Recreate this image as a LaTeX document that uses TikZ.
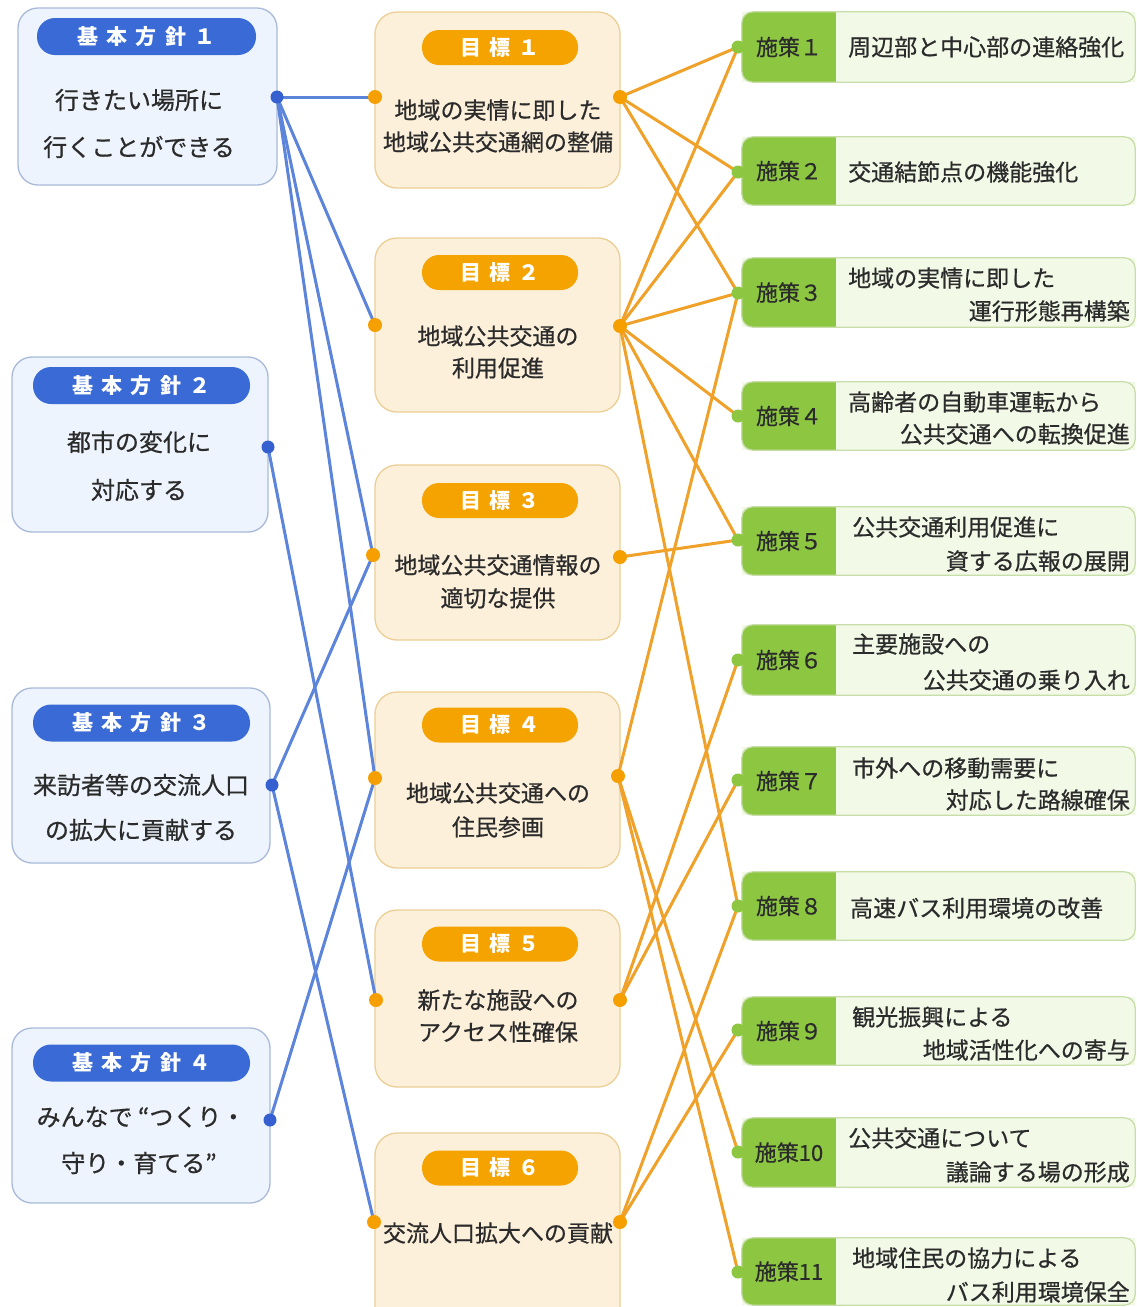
\documentclass[tikz,border=0pt]{standalone}
\usepackage{fontspec}
\setmainfont{Noto Sans CJK JP}
\definecolor{pillblue}{HTML}{3A6AD5}
\definecolor{lineblue}{HTML}{5B84DA}
\definecolor{dotblue}{HTML}{3660CF}
\definecolor{pfill}{HTML}{EEF4FD}
\definecolor{pborder}{HTML}{A9BAD9}
\definecolor{gfill}{HTML}{FDF0DA}
\definecolor{gborder}{HTML}{EBCF96}
\definecolor{pillorange}{HTML}{F5A300}
\definecolor{lineorange}{HTML}{EFA12A}
\definecolor{dotorange}{HTML}{F5A000}
\definecolor{mgreen}{HTML}{8DC641}
\definecolor{mfill}{HTML}{F2F9E7}
\definecolor{mborder}{HTML}{C8DEA9}
\definecolor{txt}{HTML}{2B2B2B}
\newcommand{\gsp}{\hspace{0.4em}}
\newcommand{\pillfont}{\fontsize{21}{24}\selectfont\bfseries}
\newcommand{\bodyfont}[1]{\fontsize{#1}{#1}\selectfont\addfontfeature{FakeBold=0.6}}
\newcommand{\measurebox}[4]{%
  \pgfmathsetmacro{\mbc}{(#2+#3)/2}%
  \pgfmathsetmacro{\mbh}{#3-#2}%
  \node[mbox, minimum height=\mbh pt] (#1) at (938.5,\mbc) {};
  \begin{scope}
    \clip[rounded corners=11pt] (#1.north west) rectangle (#1.south east);
    \fill[mgreen] (#1.north west) rectangle ([xshift=94pt]#1.south west);
  \end{scope}
  \draw[draw=mborder, line width=1.3pt, rounded corners=11pt] (#1.north west) rectangle (#1.south east);
  \node[mlab] (#1lab) at (789,\mbc) {#4};
}
\begin{document}
\begin{tikzpicture}[x=1pt,y=-1pt,
  pbox/.style={draw=pborder, fill=pfill, line width=1.3pt, rounded corners=20pt, inner sep=0pt},
  gbox/.style={draw=gborder, fill=gfill, line width=1.3pt, rounded corners=22pt, inner sep=0pt, minimum width=245pt},
  mbox/.style={fill=mfill, inner sep=0pt, minimum width=393pt},
  ppill/.style={fill=pillblue, rounded corners=18pt, inner sep=0pt, minimum height=37pt, text=white, font=\pillfont},
  gpill/.style={fill=pillorange, rounded corners=17pt, inner sep=0pt, minimum width=156pt, minimum height=35pt, text=white, font=\pillfont},
  ptxt/.style={inner sep=0pt, text=txt, font=\bodyfont{24}},
  gtxt/.style={inner sep=0pt, text=txt, font=\bodyfont{23}},
  mtxt/.style={inner sep=0pt, text=txt, font=\bodyfont{23}},
  mlab/.style={inner sep=0pt, text=txt, font=\bodyfont{22}},
  bline/.style={draw=lineblue, line width=3pt},
  oline/.style={draw=lineorange, line width=3pt},
]
\useasboundingbox (0,0) rectangle (1136,1307);
\clip (0,0) rectangle (1136,1307);
\fill[white] (0,0) rectangle (1136,1307);

% ---------- policy boxes ----------
\node[pbox, minimum width=259pt, minimum height=177pt] (p1) at (147.5,96.5) {};
\node[ppill, minimum width=219pt] (p1h) at (146.5,36.5) {基\gsp 本\gsp 方\gsp 針\gsp １};
\node[ptxt] (p1a) at (139,100) {行きたい場所に};
\node[ptxt] (p1b) at (139,147) {行くことができる};

\node[pbox, minimum width=256pt, minimum height=175pt] (p2) at (140,444.5) {};
\node[ppill, minimum width=217pt] (p2h) at (141.5,385.5) {基\gsp 本\gsp 方\gsp 針\gsp ２};
\node[ptxt] (p2a) at (139,442) {都市の変化に};
\node[ptxt] (p2b) at (139,490) {対応する};

\node[pbox, minimum width=258pt, minimum height=175pt] (p3) at (141,775.5) {};
\node[ppill, minimum width=217pt] (p3h) at (141.5,723) {基\gsp 本\gsp 方\gsp 針\gsp ３};
\node[ptxt] (p3a) at (141,785) {来訪者等の交流人口};
\node[ptxt] (p3b) at (141,830) {の拡大に貢献する};

\node[pbox, minimum width=258pt, minimum height=175pt] (p4) at (141,1115.5) {};
\node[ppill, minimum width=217pt] (p4h) at (141.5,1063) {基\gsp 本\gsp 方\gsp 針\gsp ４};
\node[ptxt] (p4a) at (141,1117) {みんなで “つくり・};
\node[ptxt] (p4b) at (139,1163) {守り・育てる”};

% ---------- goal boxes ----------
\node[gbox, minimum height=176pt] (g1) at (497.5,100) {};
\node[gpill] (g1h) at (500,47.5) {目\gsp 標\gsp １};
\node[gtxt] (g1a) at (498,110) {地域の実情に即した};
\node[gtxt] (g1b) at (498,142) {地域公共交通網の整備};

\node[gbox, minimum height=174pt] (g2) at (497.5,325) {};
\node[gpill] (g2h) at (500,272.5) {目\gsp 標\gsp ２};
\node[gtxt] (g2a) at (498,336) {地域公共交通の};
\node[gtxt] (g2b) at (498,368) {利用促進};

\node[gbox, minimum height=175pt] (g3) at (497.5,552.5) {};
\node[gpill] (g3h) at (500,500.5) {目\gsp 標\gsp ３};
\node[gtxt] (g3a) at (498,565) {地域公共交通情報の};
\node[gtxt] (g3b) at (498,598) {適切な提供};

\node[gbox, minimum height=176pt] (g4) at (497.5,780) {};
\node[gpill] (g4h) at (500,725) {目\gsp 標\gsp ４};
\node[gtxt] (g4a) at (498,793) {地域公共交通への};
\node[gtxt] (g4b) at (498,827) {住民参画};

\node[gbox, minimum height=177pt] (g5) at (497.5,998.5) {};
\node[gpill] (g5h) at (500,944) {目\gsp 標\gsp ５};
\node[gtxt] (g5a) at (498,1000) {新たな施設への};
\node[gtxt] (g5b) at (498,1032) {アクセス性確保};

\node[gbox, minimum height=197pt] (g6) at (497.5,1231.5) {};
\node[gpill] (g6h) at (500,1168) {目\gsp 標\gsp ６};
\node[gtxt] (g6a) at (498,1233) {交流人口拡大への貢献};

% ---------- measure boxes ----------
\measurebox{m1}{12}{82}{施策１}
\measurebox{m2}{137}{205}{施策２}
\measurebox{m3}{258}{327}{施策３}
\measurebox{m4}{382}{450}{施策４}
\measurebox{m5}{507}{575}{施策５}
\measurebox{m6}{625}{695}{施策６}
\measurebox{m7}{747}{815}{施策７}
\measurebox{m8}{872}{940}{施策８}
\measurebox{m9}{997}{1065}{施策９}
\measurebox{m10}{1118}{1187}{施策10}
\measurebox{m11}{1238}{1305}{施策11}

\node[mtxt, anchor=west] (m1a) at (848,47) {周辺部と中心部の連絡強化};
\node[mtxt, anchor=west] (m2a) at (848,172) {交通結節点の機能強化};
\node[mtxt, anchor=west] (m3a) at (848,278) {地域の実情に即した};
\node[mtxt, anchor=east] (m3b) at (1130,311) {運行形態再構築};
\node[mtxt, anchor=west] (m4a) at (848,402) {高齢者の自動車運転から};
\node[mtxt, anchor=east] (m4b) at (1130,434) {公共交通への転換促進};
\node[mtxt, anchor=west] (m5a) at (852,527) {公共交通利用促進に};
\node[mtxt, anchor=east] (m5b) at (1130,561) {資する広報の展開};
\node[mtxt, anchor=west] (m6a) at (852,644) {主要施設への};
\node[mtxt, anchor=east] (m6b) at (1130,680) {公共交通の乗り入れ};
\node[mtxt, anchor=west] (m7a) at (852,768) {市外への移動需要に};
\node[mtxt, anchor=east] (m7b) at (1130,800) {対応した路線確保};
\node[mtxt, anchor=west] (m8a) at (850,908) {高速バス利用環境の改善};
\node[mtxt, anchor=west] (m9a) at (852,1017) {観光振興による};
\node[mtxt, anchor=east] (m9b) at (1130,1050) {地域活性化への寄与};
\node[mtxt, anchor=west] (m10a) at (848,1138) {公共交通について};
\node[mtxt, anchor=east] (m10b) at (1130,1172) {議論する場の形成};
\node[mtxt, anchor=west] (m11a) at (852,1258) {地域住民の協力による};
\node[mtxt, anchor=east] (m11b) at (1130,1292) {バス利用環境保全};

% ---------- connection points ----------
\coordinate (p1d) at (277,97);
\coordinate (p2d) at (268,447);
\coordinate (p3d) at (272,785);
\coordinate (p4d) at (270,1120);
\coordinate (g1l) at (375,97);
\coordinate (g2l) at (375,325);
\coordinate (g3l) at (373,555);
\coordinate (g4l) at (375,778);
\coordinate (g5l) at (376,1000);
\coordinate (g6l) at (374,1222);
\coordinate (g1r) at (620,97);
\coordinate (g2r) at (620,326);
\coordinate (g3r) at (620,557);
\coordinate (g4r) at (618,776);
\coordinate (g5r) at (620,1000);
\coordinate (g6r) at (620,1222);
\coordinate (m1d) at (738,47);
\coordinate (m2d) at (738,172);
\coordinate (m3d) at (738,293);
\coordinate (m4d) at (738,416);
\coordinate (m5d) at (738,540);
\coordinate (m6d) at (738,660);
\coordinate (m7d) at (738,780);
\coordinate (m8d) at (738,906);
\coordinate (m9d) at (738,1030);
\coordinate (m10d) at (738,1152);
\coordinate (m11d) at (738,1272);

% ---------- blue connectors ----------
\draw[bline] (p1d) -- (g1l);
\draw[bline] (p1d) -- (g2l);
\draw[bline] (p1d) -- (g3l);
\draw[bline] (p1d) -- (g4l);
\draw[bline] (p2d) -- (g5l);
\draw[bline] (p3d) -- (g3l);
\draw[bline] (p3d) -- (g6l);
\draw[bline] (p4d) -- (g4l);

% ---------- orange connectors ----------
\draw[oline] (g1r) -- (m1d);
\draw[oline] (g1r) -- (m2d);
\draw[oline] (g1r) -- (m3d);
\draw[oline] (g2r) -- (m1d);
\draw[oline] (g2r) -- (m2d);
\draw[oline] (g2r) -- (m3d);
\draw[oline] (g2r) -- (m4d);
\draw[oline] (g2r) -- (m5d);
\draw[oline] (g2r) -- (m8d);
\draw[oline] (g3r) -- (m5d);
\draw[oline] (g4r) -- (m3d);
\draw[oline] (g4r) -- (m10d);
\draw[oline] (g4r) -- (m11d);
\draw[oline] (g5r) -- (m6d);
\draw[oline] (g5r) -- (m7d);
\draw[oline] (g6r) -- (m8d);
\draw[oline] (g6r) -- (m9d);

% ---------- dots ----------
\foreach \d in {p1d,p2d,p3d,p4d} \fill[dotblue] (\d) circle (6.5pt);
\foreach \d in {g1l,g2l,g3l,g4l,g5l,g6l,g1r,g2r,g3r,g4r,g5r,g6r} \fill[dotorange] (\d) circle (7pt);
\foreach \d in {m1d,m2d,m3d,m4d,m5d,m6d,m7d,m8d,m9d,m10d,m11d} \fill[mgreen] (\d) circle (6.5pt);
\end{tikzpicture}
\end{document}
